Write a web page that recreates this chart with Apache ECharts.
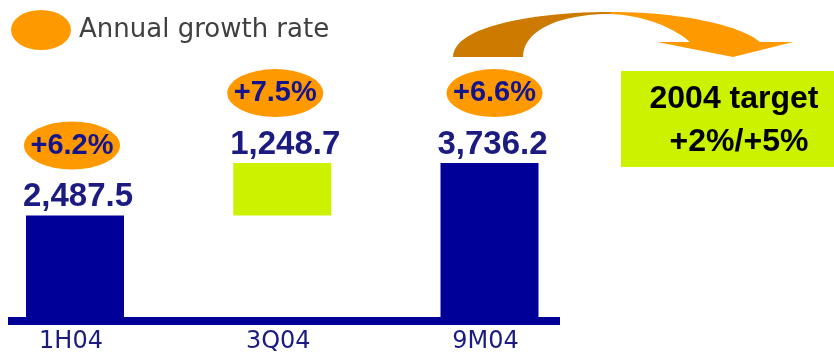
<!DOCTYPE html>
<html>
<head>
<meta charset="utf-8">
<script src="https://cdn.jsdelivr.net/npm/echarts@6/dist/echarts.min.js"></script>
<style>
  html, body { margin: 0; padding: 0; background: #ffffff; }
  #chart { width: 834px; height: 354px; }
</style>
</head>
<body>
<div id="chart"></div>
<script>
// Revenue by period (the quarter is drawn as a floating step between the two totals)
const periods = ['1H04', '3Q04', '9M04'];
const revenue = [2487.5, 1248.7, 3736.2];
const barKind = ['total', 'step', 'total'];
const growthRates = ['+6.2%', '+7.5%', '+6.6%'];
const legendName = 'Annual growth rate';
const targetLines = ['2004 target', '+2%/+5%'];

// Layout / style constants
const NAVY = '#000099';
const LABEL_NAVY = '#1b1b80';
const GREEN = '#ccf200';
const ORANGE = '#ff9900';
const growthNudgeX = [-3, -7, 5];

// Invisible stack base so the step bar floats on the previous total
const base = [];
let running = 0;
revenue.forEach(function (v, i) {
  if (barKind[i] === 'step') { base.push(running); running += v; }
  else { base.push(0); running = v; }
});
const tops = revenue.map(function (v, i) { return base[i] + v; });

function fmt(v) {
  return v.toLocaleString('en-US', { minimumFractionDigits: 1, maximumFractionDigits: 1 });
}

// Curved arrow outline: cubic segments flattened into polygon points
function cubic(p0, c1, c2, p1, n) {
  const pts = [];
  for (let k = 1; k <= n; k++) {
    const t = k / n, u = 1 - t;
    pts.push([
      u * u * u * p0[0] + 3 * u * u * t * c1[0] + 3 * u * t * t * c2[0] + t * t * t * p1[0],
      u * u * u * p0[1] + 3 * u * u * t * c1[1] + 3 * u * t * t * c2[1] + t * t * t * p1[1]
    ]);
  }
  return pts;
}
const arrowPts = [[453, 57]]
  .concat(cubic([453, 57], [453, 25], [540, 12], [610, 12], 24))
  .concat(cubic([610, 12], [680, 12], [740, 25], [760, 42], 24))
  .concat([[793, 42], [733, 57], [657, 42], [690, 42]])
  .concat(cubic([690, 42], [670, 25], [640, 15], [610, 14], 20))
  .concat(cubic([610, 14], [560, 14], [523, 30], [523, 57], 20));

const chart = echarts.init(document.getElementById('chart'), null, { renderer: 'canvas' });

const option = {
  backgroundColor: '#ffffff',
  animation: false,
  legend: {
    data: [legendName],
    left: 11,
    top: 10,
    padding: 0,
    itemWidth: 60,
    itemHeight: 40,
    icon: 'path://M0,20A30,20 0 1,1 60,20A30,20 0 1,1 0,20Z',
    selectedMode: false,
    textStyle: { fontFamily: 'DejaVu Sans', fontSize: 26, color: '#404040', padding: [0, 0, 4, 3] }
  },
  grid: [
    { left: 75, right: 344.5, top: 110, bottom: 33 },
    { left: 8, right: 274, top: 110, bottom: 33 }
  ],
  xAxis: [
    {
      type: 'category',
      gridIndex: 0,
      data: periods,
      boundaryGap: false,
      axisLine: { show: false },
      axisTick: { show: false },
      axisLabel: {
        margin: 10,
        fontFamily: 'DejaVu Sans',
        fontSize: 24,
        color: LABEL_NAVY,
        padding: [0, 8, 0, 0]
      }
    },
    {
      type: 'value',
      gridIndex: 1,
      min: 0,
      max: 1,
      axisLine: { show: true, onZero: false, lineStyle: { color: NAVY, width: 8, cap: 'butt' } },
      axisTick: { show: false },
      axisLabel: { show: false },
      splitLine: { show: false }
    }
  ],
  yAxis: [
    { type: 'value', gridIndex: 0, min: 0, max: 5000, show: false },
    { type: 'value', gridIndex: 1, min: 0, max: 1, show: false }
  ],
  series: [
    {
      type: 'bar',
      stack: 'flow',
      silent: true,
      clip: false,
      barWidth: 98,
      itemStyle: { color: 'rgba(0,0,0,0)' },
      data: base
    },
    {
      type: 'bar',
      stack: 'flow',
      clip: false,
      barWidth: 98,
      data: revenue.map(function (v, i) {
        return { value: v, itemStyle: { color: barKind[i] === 'step' ? GREEN : NAVY } };
      }),
      label: {
        show: true,
        position: 'top',
        distance: 2,
        offset: [3, 0],
        fontFamily: 'Liberation Sans',
        fontWeight: 'bold',
        fontSize: 33,
        color: LABEL_NAVY,
        formatter: function (p) { return fmt(p.value); }
      }
    },
    {
      type: 'scatter',
      name: legendName,
      clip: false,
      symbol: 'circle',
      symbolSize: [96, 48],
      itemStyle: { color: ORANGE, opacity: 1 },
      z: 5,
      data: tops.map(function (t, i) {
        return { value: t, symbolOffset: [growthNudgeX[i], -70] };
      }),
      label: {
        show: true,
        position: 'inside',
        fontFamily: 'Liberation Sans',
        fontWeight: 'bold',
        fontSize: 29,
        color: '#14148c',
        formatter: function (p) { return growthRates[p.dataIndex]; }
      }
    }
  ],
  graphic: [
    {
      type: 'polygon',
      shape: { points: arrowPts },
      style: {
        fill: {
          type: 'linear', x: 0, y: 0, x2: 1, y2: 0,
          colorStops: [
            { offset: 0, color: '#cc7a00' },
            { offset: 0.46, color: '#cc7a00' },
            { offset: 0.465, color: ORANGE },
            { offset: 1, color: ORANGE }
          ]
        }
      }
    },
    {
      type: 'group',
      left: 621,
      top: 71,
      children: [
        { type: 'rect', shape: { x: 0, y: 0, width: 213, height: 96 }, style: { fill: GREEN } },
        {
          type: 'text', x: 113, y: 28,
          style: { text: targetLines[0], fill: '#000000', font: 'bold 32px "Liberation Sans"', align: 'center', verticalAlign: 'middle' }
        },
        {
          type: 'text', x: 118, y: 71,
          style: { text: targetLines[1], fill: '#000000', font: 'bold 32px "Liberation Sans"', align: 'center', verticalAlign: 'middle' }
        }
      ]
    }
  ]
};

chart.setOption(option);
</script>
</body>
</html>
